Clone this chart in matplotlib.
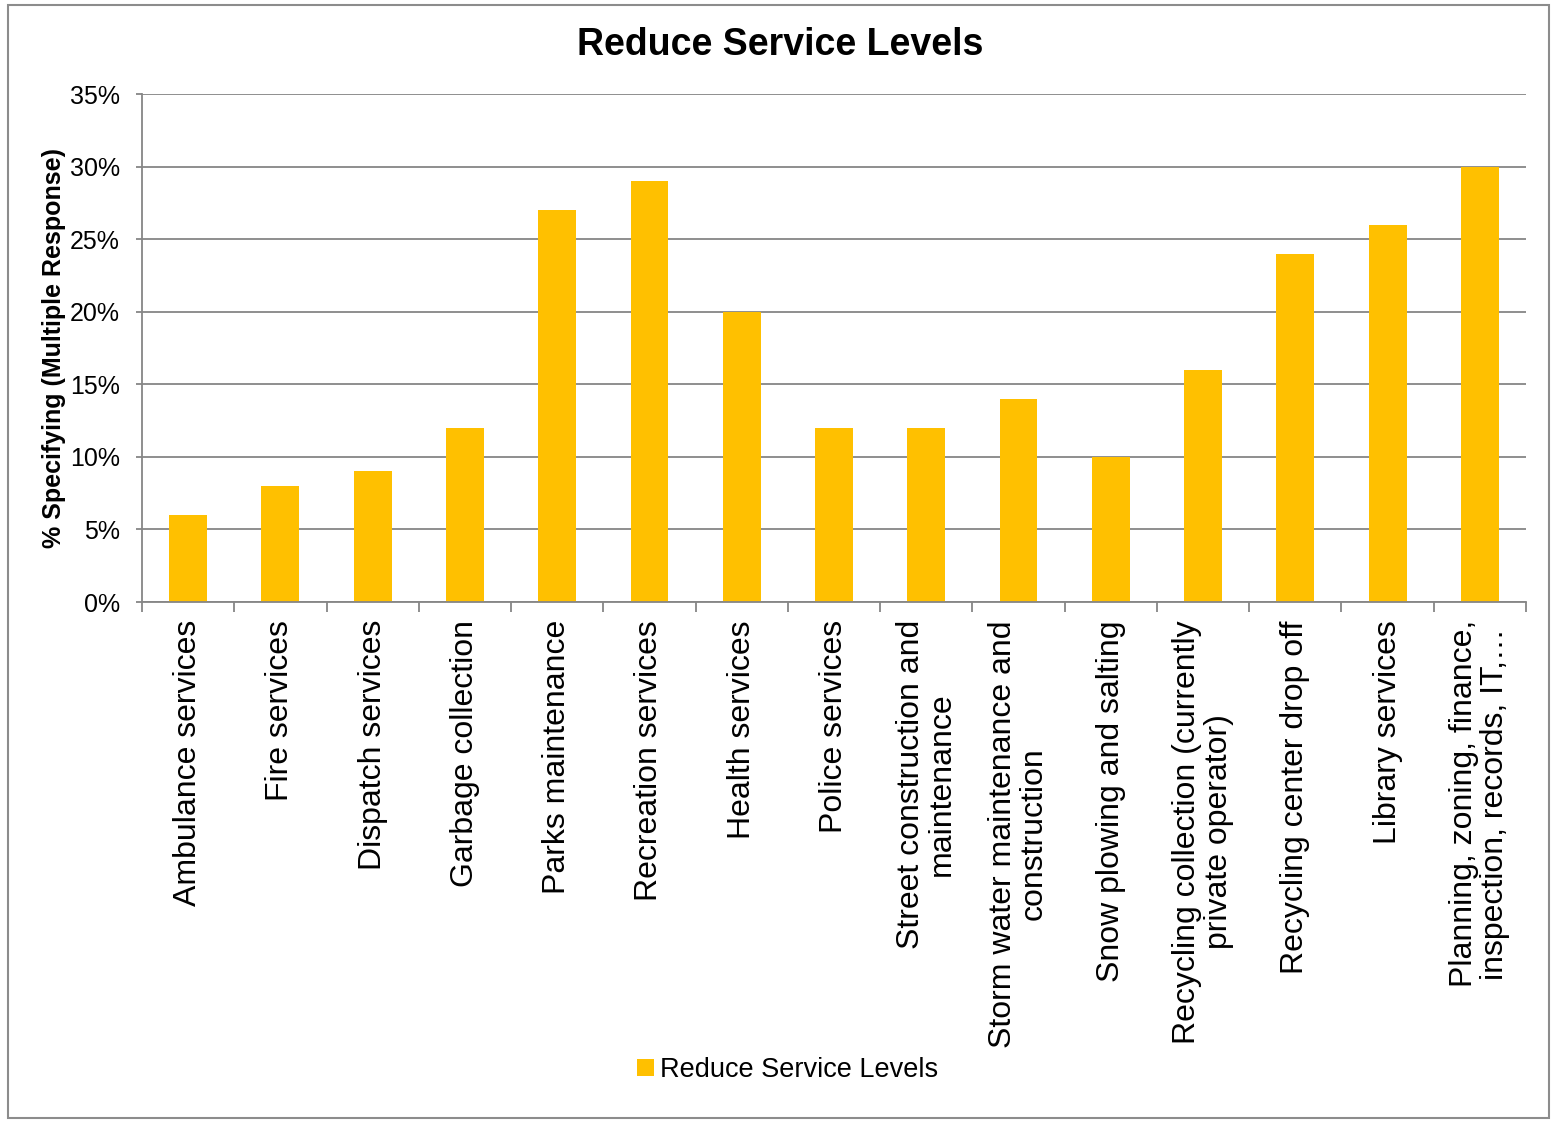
import matplotlib
matplotlib.use("Agg")
import matplotlib.pyplot as plt
from matplotlib.patches import Rectangle
from matplotlib.ticker import FuncFormatter, MultipleLocator, FixedLocator

plt.rcParams['font.family'] = ['Liberation Sans', 'DejaVu Sans']

categories = [
    "Ambulance services",
    "Fire services",
    "Dispatch services",
    "Garbage collection",
    "Parks maintenance",
    "Recreation services",
    "Health services",
    "Police services",
    "Street construction and\nmaintenance",
    "Storm water maintenance and\nconstruction",
    "Snow plowing and salting",
    "Recycling collection (currently\nprivate operator)",
    "Recycling center drop off",
    "Library services",
    "Planning, zoning, finance,\ninspection, records, IT,…",
]
values = [0.06, 0.08, 0.09, 0.12, 0.27, 0.29, 0.20, 0.12, 0.12, 0.14, 0.10, 0.16, 0.24, 0.26, 0.30]
series_name = "Reduce Service Levels"
title = "Reduce Service Levels"
ylabel = "% Specifying (Multiple Response)"

bar_color = "#FFC000"
grid_color = "#868686"

fig = plt.figure(figsize=(15.52, 11.21), dpi=100)
ax = fig.add_axes([142 / 1552, 1 - 602 / 1121, (1526 - 142) / 1552, (602 - 94) / 1121])

x = list(range(len(categories)))
ax.bar(x, values, width=0.41, color=bar_color, zorder=3, label=series_name)

ax.set_xlim(-0.5, len(categories) - 0.5)
ax.set_ylim(0, 0.35)
ax.yaxis.set_major_locator(MultipleLocator(0.05))
ax.yaxis.set_major_formatter(FuncFormatter(lambda v, p: f"{v * 100:.0f}%"))
ax.grid(axis='y', color=grid_color, linewidth=1.3, zorder=0)

# category labels at centres, tick marks at category boundaries
ax.set_xticks(x)
ax.set_xticklabels(categories, rotation=90, fontsize=23, ha='center', va='top',
                   multialignment='center', linespacing=1.05)
ax.tick_params(axis='x', length=0, pad=13)
ax.xaxis.set_minor_locator(FixedLocator([i - 0.5 for i in range(len(categories) + 1)]))
ax.tick_params(axis='x', which='minor', length=7, width=1.3, color=grid_color, direction='out')
ax.tick_params(axis='y', length=4, width=1.3, color=grid_color, labelsize=18, pad=12)

for s in ['top', 'right']:
    ax.spines[s].set_visible(False)
for s in ['left', 'bottom']:
    ax.spines[s].set_color(grid_color)
    ax.spines[s].set_linewidth(1.3)
    ax.spines[s].set_zorder(4)

ax.set_ylabel(ylabel, fontsize=18, fontweight='bold')
ax.yaxis.set_label_coords(-0.055, 0.5)

fig.text(780 / 1552, 1 - 45 / 1121, title, fontsize=27, fontweight='bold',
         ha='center', va='center')

leg = fig.legend(loc='center', bbox_to_anchor=(788 / 1552, 1 - 1070 / 1121), frameon=False,
                 fontsize=19.5, handlelength=0.6, handleheight=0.6, handletextpad=0.25)

# chart area border
fig.patches.append(Rectangle((8 / 1552, 3 / 1121), (1549 - 8) / 1552, (1116 - 3) / 1121,
                             transform=fig.transFigure, fill=False,
                             edgecolor='#8c8c8c', linewidth=1.5))

fig.savefig("out.png", dpi=100, facecolor='white')
